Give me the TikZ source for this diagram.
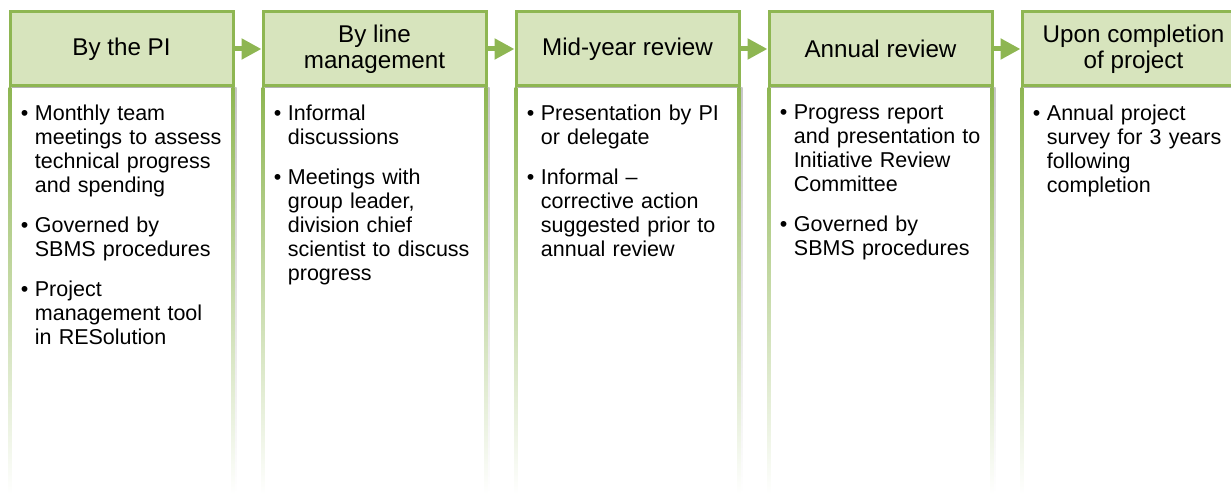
\documentclass[tikz,border=0pt]{standalone}
\usepackage{fontspec}
\setmainfont{Liberation Sans}
\usepackage{xcolor}
\usepackage{tikz}
\usetikzlibrary{arrows.meta,positioning,calc,shadows}
\definecolor{stagefill}{HTML}{D7E4BD}
\definecolor{stageline}{HTML}{8EB652}
\newcommand{\itm}[1]{\hangindent=7pt\hangafter=1\makebox[7pt][l]{\textbullet}#1\par}
\tikzset{
  stage/.style={draw=stageline, line width=1.5pt, fill=stagefill, align=center, minimum width=111.5pt, minimum height=37pt, inner sep=2pt, font=\fontsize{12.1}{13}\selectfont, drop shadow={shadow xshift=1.2pt, shadow yshift=-1.2pt, opacity=.3, fill=black}},
  lane/.style={minimum width=111.5pt, minimum height=203.5pt, inner sep=0pt, outer sep=0pt},
  notes/.style={text width=108pt, align=left, inner sep=0pt, font=\fontsize{10.75}{12}\selectfont\setlength{\parskip}{8pt}},
  flowarr/.style={-{Triangle[length=10pt, width=10pt]}, line width=2.5pt, draw=stageline},
  fade/.style={top color=stageline, bottom color=white},
  fadeshadow/.style={top color=black!22, bottom color=white}}
\begin{document}
\begin{tikzpicture}[x=0.5pt, y=0.5pt, node distance=13.5pt]
  \useasboundingbox (0,0) rectangle (1231,493);
  \clip (0,0) rectangle (1231,493);
  \node[stage] (pi) at (121.5,444) {By the PI};
  \node[stage, right=of pi] (line) {By line\\management};
  \node[stage, right=of line] (mid) {Mid-year review};
  \node[stage, right=of mid] (annual) {Annual review};
  \node[stage, right=of annual] (done) {Upon completion\\of project};
  \foreach \s in {pi,line,mid,annual,done} {
    \node[lane, below=0pt of \s] (\s-lane) {};
    \shade[fadeshadow] ($(\s-lane.north east)+(0.75pt,0)$) rectangle ($(\s-lane.south east)+(1.8pt,0)$);
    \shade[fade] ($(\s-lane.north west)+(-0.75pt,0)$) rectangle ($(\s-lane.south west)+(0.75pt,0)$);
    \shade[fade] ($(\s-lane.north east)+(-0.75pt,0)$) rectangle ($(\s-lane.south east)+(0.75pt,0)$);
  }
  \draw[flowarr] (pi) -- (line);
  \draw[flowarr] (line) -- (mid);
  \draw[flowarr] (mid) -- (annual);
  \draw[flowarr] (annual) -- (done);
  \node[notes, below right=8.5pt and 6pt of pi.south west] (pi-notes) {%
    \itm{Monthly team\newline meetings to assess\newline technical progress\newline and spending}%
    \itm{Governed by\newline SBMS procedures}%
    \itm{Project\newline management tool\newline in RESolution}};
  \node[notes, below right=8.5pt and 6pt of line.south west] (line-notes) {%
    \itm{Informal\newline discussions}%
    \itm{Meetings with\newline group leader,\newline division chief\newline scientist to discuss\newline progress}};
  \node[notes, below right=8.5pt and 6pt of mid.south west] (mid-notes) {%
    \itm{Presentation by PI\newline or delegate}%
    \itm{Informal --\newline corrective action\newline suggested prior to\newline annual review}};
  \node[notes, below right=8.5pt and 6pt of annual.south west] (annual-notes) {%
    \itm{Progress report\newline and presentation to\newline Initiative Review\newline Committee}%
    \itm{Governed by\newline SBMS procedures}};
  \node[notes, below right=8.5pt and 6pt of done.south west] (done-notes) {%
    \itm{Annual project\newline survey for 3 years\newline following\newline completion}};
\end{tikzpicture}
\end{document}
